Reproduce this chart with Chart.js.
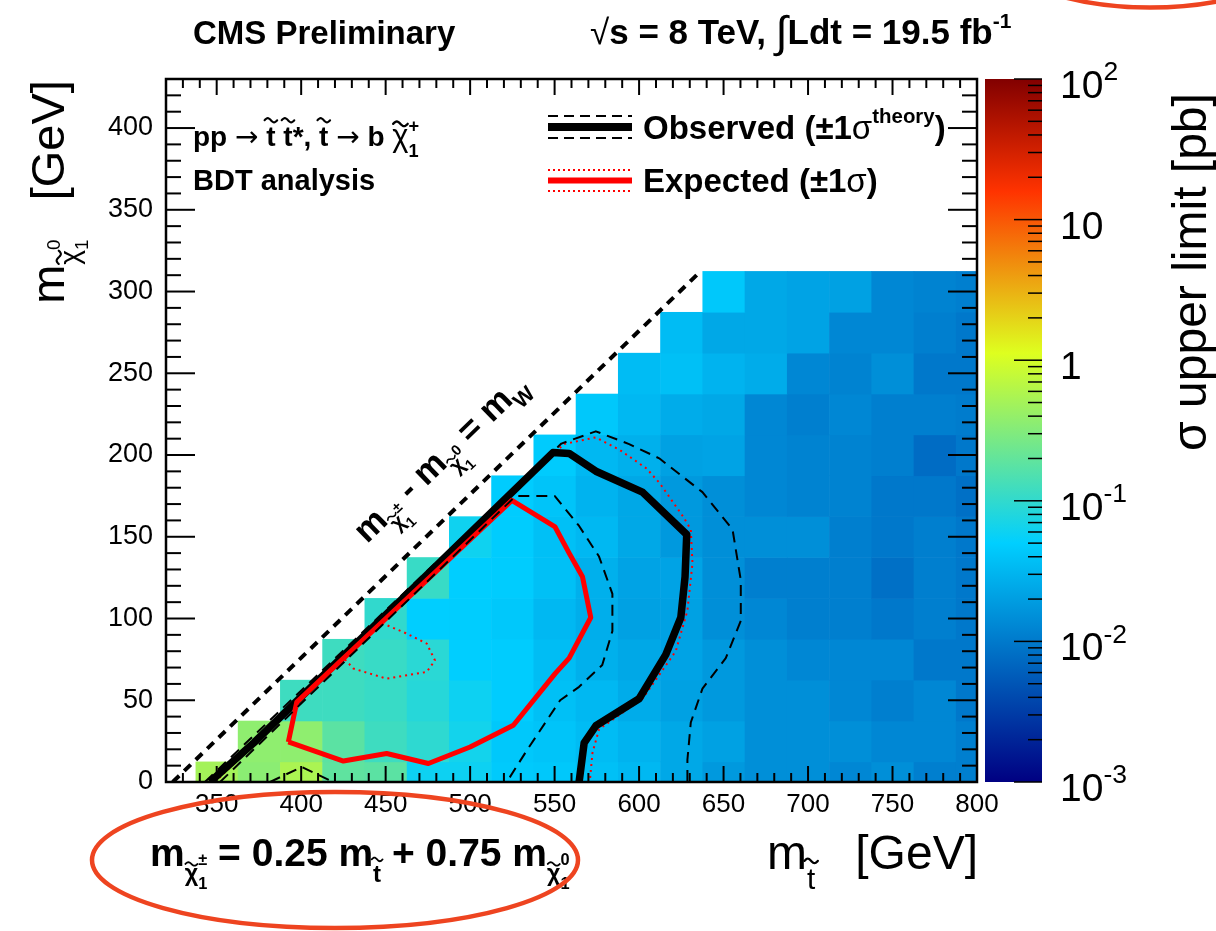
<!DOCTYPE html>
<html>
<head>
<meta charset="utf-8">
<script src="https://cdn.jsdelivr.net/npm/chart.js@4.4.1/dist/chart.umd.min.js"></script>
<style>
  html, body { margin: 0; padding: 0; background: #ffffff; }
  canvas { display: block; }
</style>
</head>
<body>
<canvas id="c" width="1216" height="931"></canvas>
<script>
// ---- signal grid: stop mass (x) and neutralino mass (y), GeV ----
const mStop = [350, 375, 400, 425, 450, 475, 500, 525, 550, 575, 600, 625, 650, 675, 700, 725, 750, 775, 800];
const mLSP  = [0, 25, 50, 75, 100, 125, 150, 175, 200, 225, 250, 275, 300];

// σ upper limit [pb], one array per neutralino mass; null = no signal point
const limit_mLSP0   = [0.50, 0.35, 0.55, 0.19, 0.18, 0.060, 0.060, 0.046, 0.044, 0.038, 0.033, 0.024, 0.018, 0.015, 0.015, 0.013, 0.015, 0.011, 0.011];
const limit_mLSP25  = [null, 0.37, 0.37, 0.18, 0.12, 0.095, 0.065, 0.044, 0.041, 0.035, 0.030, 0.024, 0.021, 0.015, 0.015, 0.015, 0.013, 0.013, 0.011];
const limit_mLSP50  = [null, null, 0.12, 0.12, 0.11, 0.085, 0.060, 0.048, 0.038, 0.033, 0.026, 0.021, 0.018, 0.015, 0.015, 0.013, 0.011, 0.013, 0.0097];
const limit_mLSP75  = [null, null, null, 0.12, 0.11, 0.090, 0.050, 0.048, 0.036, 0.028, 0.024, 0.022, 0.018, 0.015, 0.013, 0.013, 0.013, 0.0097, 0.0097];
const limit_mLSP100 = [null, null, null, null, 0.10, 0.050, 0.049, 0.044, 0.033, 0.027, 0.021, 0.021, 0.015, 0.013, 0.011, 0.011, 0.0097, 0.011, 0.0097];
const limit_mLSP125 = [null, null, null, null, null, 0.11, 0.050, 0.048, 0.038, 0.028, 0.022, 0.022, 0.015, 0.011, 0.011, 0.011, 0.0084, 0.011, 0.0097];
const limit_mLSP150 = [null, null, null, null, null, null, 0.062, 0.048, 0.038, 0.033, 0.024, 0.018, 0.015, 0.015, 0.015, 0.011, 0.0097, 0.011, 0.0097];
const limit_mLSP175 = [null, null, null, null, null, null, null, 0.048, 0.041, 0.030, 0.024, 0.018, 0.015, 0.013, 0.012, 0.012, 0.0097, 0.0097, 0.0084];
const limit_mLSP200 = [null, null, null, null, null, null, null, null, 0.047, 0.033, 0.028, 0.021, 0.022, 0.013, 0.012, 0.012, 0.011, 0.0078, 0.0097];
const limit_mLSP225 = [null, null, null, null, null, null, null, null, null, 0.044, 0.033, 0.026, 0.024, 0.013, 0.011, 0.013, 0.011, 0.011, 0.0105];
const limit_mLSP250 = [null, null, null, null, null, null, null, null, null, null, 0.035, 0.038, 0.030, 0.026, 0.013, 0.012, 0.015, 0.0097, 0.0097];
const limit_mLSP275 = [null, null, null, null, null, null, null, null, null, null, null, 0.035, 0.024, 0.024, 0.022, 0.013, 0.013, 0.011, 0.0097];
const limit_mLSP300 = [null, null, null, null, null, null, null, null, null, null, null, null, 0.044, 0.024, 0.022, 0.021, 0.013, 0.012, 0.011];
const limitRows = [limit_mLSP0, limit_mLSP25, limit_mLSP50, limit_mLSP75, limit_mLSP100, limit_mLSP125,
                   limit_mLSP150, limit_mLSP175, limit_mLSP200, limit_mLSP225, limit_mLSP250, limit_mLSP275, limit_mLSP300];

// ---- exclusion contours (mStop, mLSP) ----
const obsLine = [[346,0],[372,24],[549,201.5],[558.6,201],[574.4,190.1],[602,177.3],[628.2,151.4],[627.2,125.5],[624.7,100.6],[615.8,77.9],[600,50.9],[574.4,34.4],[567.5,24],[564.5,0]];
const obsUp   = [[343,0],[554,207],[574.4,214.5],[594.1,206.7],[611.9,198],[637.5,177.3],[655.3,154.5],[660.2,123.4],[660.2,98.6],[651.3,75.8],[637.5,57.1],[630.6,36.4],[628.6,13.6],[628.6,0]];
const obsDown = [[352,0],[527,175],[550,175],[564.5,156.6],[576.3,137.9],[584.2,115.1],[584.2,92.3],[578.2,71.6],[564.5,58.2],[553.3,50],[545.4,37.7],[533.6,19.4],[521.7,0]];
const obsDownTail = [[381.6,0],[400.3,9.2],[419,0]];
const expLine = [[392.4,24.5],[397.4,48.9],[524.7,172.3],[550.3,156],[558.6,140],[566.5,125.5],[571.4,100.6],[558.6,75.8],[550.3,66.3],[525.6,34.7],[500,21.4],[475.3,11.3],[450.6,17.4],[425,12.8],[392.4,24.5]];
const expUp   = [[349,0],[555.5,206.7],[574.4,210.8],[588.7,203],[604.5,191.7],[612.4,182.5],[626.2,162.1],[630.6,154.5],[631.6,133.8],[628.6,104.8],[621.7,80],[602,50.9],[576.3,32.3],[572.4,17.8],[570.8,0]];
const expDown = [[425,76],[440,92],[446,98],[462,91],[474.3,84.7],[479.2,74.4],[474.3,67.3],[450.6,63.2],[430.9,69.4],[425,76]];
// m(chargino) - m(neutralino) = m(W) boundary
const kinLine = [[324,0],[636.5,312.5]];

// ---- axis ticks ----
const xTickLabels = [350, 400, 450, 500, 550, 600, 650, 700, 750, 800];
const yTickLabels = [0, 50, 100, 150, 200, 250, 300, 350, 400];
const zDecades = [1e-3, 1e-2, 1e-1, 1, 10, 100];
const zDecadeLabels = [['10', '-3'], ['10', '-2'], ['10', '-1'], ['1', ''], ['10', ''], ['10', '2']];

const FONT = '"Liberation Sans", Helvetica, Arial, "DejaVu Sans", sans-serif';
const ARROW_FONT = '"DejaVu Sans", "Liberation Sans", sans-serif';
const BIN_HALF = 12.5;
const Z_MIN = 1e-3, Z_MAX = 1e2;

// rainbow palette (stops, r, g, b)
const PAL_STOPS = [0.00, 0.34, 0.61, 0.84, 1.00];
const PAL_R = [0.00, 0.00, 0.87, 1.00, 0.51];
const PAL_G = [0.00, 0.81, 1.00, 0.20, 0.00];
const PAL_B = [0.51, 1.00, 0.12, 0.00, 0.00];

function paletteRGB(t) {
  t = Math.min(1, Math.max(0, t));
  let k = 0;
  while (k < PAL_STOPS.length - 2 && t > PAL_STOPS[k + 1]) k++;
  const f = (t - PAL_STOPS[k]) / (PAL_STOPS[k + 1] - PAL_STOPS[k]);
  const c = (arr) => Math.round(255 * (arr[k] + f * (arr[k + 1] - arr[k])));
  return 'rgb(' + c(PAL_R) + ',' + c(PAL_G) + ',' + c(PAL_B) + ')';
}
function colorFor(v) {
  const t = (Math.log10(v) - Math.log10(Z_MIN)) / (Math.log10(Z_MAX) - Math.log10(Z_MIN));
  return paletteRGB(t);
}

function toPts(arr) { return arr.map(p => ({ x: p[0], y: p[1] })); }

// small tilde accent drawn as a sine stroke
function drawTilde(ctx, cx, cy, w, s) {
  ctx.save();
  ctx.lineWidth = Math.max(1.3, s * 0.075);
  ctx.strokeStyle = ctx.fillStyle;
  ctx.lineCap = 'round';
  ctx.beginPath();
  const h = s * 0.075;
  for (let i = 0; i <= 20; i++) {
    const t = i / 20;
    const xx = cx - w / 2 + w * t;
    const yy = cy - h * Math.sin(t * 2 * Math.PI);
    if (i === 0) ctx.moveTo(xx, yy); else ctx.lineTo(xx, yy);
  }
  ctx.stroke();
  ctx.restore();
}

// rich text: parts = {t, s (size factor), dy (em, +down), tilde (em above baseline), stack, w (weight), f (family)}
function rich(ctx, x, y, parts, size, opt) {
  opt = opt || {};
  const weight = opt.weight || 'normal';
  let cursor = 0, lastStart = 0;
  const placed = [];
  for (const p of parts) {
    const s = (p.s || 1) * size;
    const font = (p.w || weight) + ' ' + s + 'px ' + (p.f || FONT);
    ctx.font = font;
    const w = ctx.measureText(p.t).width;
    const px = p.stack ? lastStart : cursor;
    lastStart = px;
    placed.push({ p, s, px, w, font });
    cursor = Math.max(cursor, px + w);
  }
  let x0 = x;
  if (opt.align === 'center') x0 = x - cursor / 2;
  else if (opt.align === 'right') x0 = x - cursor;
  ctx.textAlign = 'left';
  ctx.textBaseline = 'alphabetic';
  for (const q of placed) {
    ctx.font = q.font;
    const yy = y + (q.p.dy || 0) * size;
    ctx.fillText(q.p.t, x0 + q.px, yy);
    if (q.p.tilde) drawTilde(ctx, x0 + q.px + q.w / 2, yy - q.p.tilde * q.s, Math.max(q.w * 0.9, q.s * 0.45), q.s);
  }
  return cursor;
}

function seg(ctx, x1, y1, x2, y2) { ctx.beginPath(); ctx.moveTo(x1, y1); ctx.lineTo(x2, y2); ctx.stroke(); }

const decorations = {
  id: 'decorations',
  beforeDatasetsDraw(chart) {
    const { ctx, chartArea: a, scales: { x, y } } = chart;
    ctx.save();
    ctx.beginPath();
    ctx.rect(a.left, a.top, a.right - a.left, a.bottom - a.top);
    ctx.clip();
    limitRows.forEach((row, j) => {
      const yc = mLSP[j];
      const yTop = y.getPixelForValue(yc + BIN_HALF), yBot = y.getPixelForValue(yc - BIN_HALF);
      row.forEach((v, i) => {
        if (v == null) return;
        const xc = mStop[i];
        const xL = x.getPixelForValue(xc - BIN_HALF), xR = x.getPixelForValue(xc + BIN_HALF);
        ctx.fillStyle = colorFor(v);
        ctx.fillRect(xL, yTop, xR - xL + 0.6, yBot - yTop + 0.6);
      });
    });
    ctx.restore();
  },
  afterDatasetsDraw(chart) {
    const { ctx, chartArea: a, scales: { x, y } } = chart;
    ctx.save();
    ctx.strokeStyle = '#000';
    ctx.lineWidth = 2;
    for (let v = 330; v < 800; v += 10) {
      const px = x.getPixelForValue(v);
      const L = v % 50 === 0 ? 16 : 9;
      seg(ctx, px, a.bottom, px, a.bottom - L);
      seg(ctx, px, a.top, px, a.top + L);
    }
    for (let v = 10; v < 430; v += 10) {
      const py = y.getPixelForValue(v);
      const L = v % 50 === 0 ? 29 : 15;
      seg(ctx, a.left, py, a.left + L, py);
      seg(ctx, a.right, py, a.right - L, py);
    }
    ctx.lineWidth = 2.5;
    ctx.strokeRect(a.left, a.top, a.right - a.left, a.bottom - a.top);
    ctx.restore();
  },
  afterDraw(chart) {
    const { ctx, chartArea: a, scales: { x, y, z } } = chart;
    ctx.save();
    ctx.fillStyle = '#000';

    // ---- colour bar ----
    const barL = z.left + 8, barR = z.left + 65;
    const yLo = z.getPixelForValue(Z_MIN), yHi = z.getPixelForValue(Z_MAX);
    const grad = ctx.createLinearGradient(0, yLo, 0, yHi);
    PAL_STOPS.forEach((s) => grad.addColorStop(s, paletteRGB(s)));
    ctx.fillStyle = grad;
    ctx.fillRect(barL, yHi, barR - barL, yLo - yHi);
    ctx.strokeStyle = '#000';
    ctx.lineWidth = 1.5;
    for (let d = 0; d < zDecades.length; d++) {
      const base = zDecades[d];
      const py = z.getPixelForValue(base);
      seg(ctx, barR, py, barR - 28, py);
      if (d < zDecades.length - 1) {
        for (let m = 2; m <= 9; m++) {
          const pm = z.getPixelForValue(base * m);
          seg(ctx, barR, pm, barR - 14, pm);
        }
      }
    }
    ctx.fillStyle = '#000';
    zDecades.forEach((v, i) => {
      const py = z.getPixelForValue(v);
      const lab = zDecadeLabels[i];
      const parts = [{ t: lab[0] }];
      if (lab[1]) parts.push({ t: lab[1], s: 0.68, dy: -0.45 });
      rich(ctx, barR + 18, py + 19, parts, 39);
    });
    // colour bar title
    ctx.save();
    ctx.translate(1206, 272);
    ctx.rotate(-Math.PI / 2);
    rich(ctx, 0, 0, [{ t: 'σ upper limit [pb]' }], 48, { align: 'center' });
    ctx.restore();

    // ---- axis titles ----
    ctx.save();
    ctx.translate(64, 192);
    ctx.rotate(-Math.PI / 2);
    rich(ctx, 0, 0, [
      { t: 'm' },
      { t: 'χ', s: 0.6, dy: 0.32, tilde: 0.72 },
      { t: '1', s: 0.4, dy: 0.5 },
      { t: '0', s: 0.4, dy: -0.08, stack: true },
      { t: '   [GeV]' }
    ], 47, { align: 'center' });
    ctx.restore();

    rich(ctx, a.right + 1, 869, [
      { t: 'm' },
      { t: 't', s: 0.62, dy: 0.42, tilde: 0.95 },
      { t: '   [GeV]' }
    ], 48, { align: 'right' });

    // ---- header ----
    rich(ctx, 193, 44, [{ t: 'CMS Preliminary' }], 33, { weight: 'bold' });
    rich(ctx, 590, 44, [
      { t: '√', w: 'normal' },
      { t: 's = 8 TeV, ' },
      { t: '∫', w: 'normal', s: 1.25, dy: 0.08 },
      { t: 'Ldt = 19.5 fb' },
      { t: '-1', s: 0.6, dy: -0.45 }
    ], 35, { weight: 'bold' });

    // ---- process / analysis labels ----
    rich(ctx, 193, 146, [
      { t: 'pp ' },
      { t: '→', w: 'normal', f: ARROW_FONT },
      { t: ' ' },
      { t: 't', tilde: 0.92 },
      { t: ' ' },
      { t: 't', tilde: 0.92 },
      { t: '*, ' },
      { t: 't', tilde: 0.92 },
      { t: ' ' },
      { t: '→', w: 'normal', f: ARROW_FONT },
      { t: ' b ' },
      { t: 'χ', w: 'normal', s: 1.1, tilde: 0.72 },
      { t: '1', s: 0.65, dy: 0.4 },
      { t: '+', s: 0.65, dy: -0.5, stack: true }
    ], 28, { weight: 'bold' });
    rich(ctx, 193, 190, [{ t: 'BDT analysis' }], 29, { weight: 'bold' });

    // ---- legend ----
    ctx.save();
    ctx.strokeStyle = '#000';
    ctx.lineWidth = 2;
    ctx.setLineDash([10, 6]);
    seg(ctx, 548, 116, 632, 116);
    seg(ctx, 548, 138, 632, 138);
    ctx.setLineDash([]);
    ctx.lineWidth = 8;
    seg(ctx, 548, 127, 632, 127);
    ctx.strokeStyle = '#ff0000';
    ctx.lineWidth = 2;
    ctx.setLineDash([2, 3]);
    seg(ctx, 548, 170, 632, 170);
    seg(ctx, 548, 191, 632, 191);
    ctx.setLineDash([]);
    ctx.lineWidth = 6;
    seg(ctx, 548, 180.5, 632, 180.5);
    ctx.restore();
    ctx.fillStyle = '#000';
    rich(ctx, 643, 139, [
      { t: 'Observed (±1' },
      { t: 'σ', w: 'normal' },
      { t: 'theory', s: 0.62, dy: -0.5 },
      { t: ')' }
    ], 33, { weight: 'bold' });
    rich(ctx, 643, 192, [
      { t: 'Expected (±1' },
      { t: 'σ', w: 'normal' },
      { t: ')' }
    ], 33, { weight: 'bold' });

    // ---- kinematic boundary label, aligned with the boundary line ----
    const ang = Math.atan2(y.getPixelForValue(300) - y.getPixelForValue(0),
                           x.getPixelForValue(624) - x.getPixelForValue(324));
    ctx.save();
    ctx.translate(448, 466);
    ctx.rotate(ang);
    rich(ctx, 0, 0, [
      { t: 'm' },
      { t: 'χ', s: 0.6, dy: 0.35, tilde: 0.72 },
      { t: '1', s: 0.42, dy: 0.55 },
      { t: '±', s: 0.42, dy: -0.02, stack: true },
      { t: ' - m' },
      { t: 'χ', s: 0.6, dy: 0.35, tilde: 0.72 },
      { t: '1', s: 0.42, dy: 0.55 },
      { t: '0', s: 0.42, dy: -0.02, stack: true },
      { t: ' = m' },
      { t: 'W', s: 0.62, dy: 0.3 }
    ], 35, { weight: 'bold', align: 'center' });
    ctx.restore();

    // ---- mass relation ----
    rich(ctx, 150, 866, [
      { t: 'm' },
      { t: 'χ', s: 0.6, dy: 0.38, tilde: 0.72 },
      { t: '1', s: 0.42, dy: 0.6 },
      { t: '±', s: 0.42, dy: -0.02, stack: true },
      { t: ' = 0.25 m' },
      { t: 't', s: 0.62, dy: 0.42, tilde: 0.95 },
      { t: ' + 0.75 m' },
      { t: 'χ', s: 0.6, dy: 0.38, tilde: 0.72 },
      { t: '1', s: 0.42, dy: 0.6 },
      { t: '0', s: 0.42, dy: -0.02, stack: true }
    ], 39, { weight: 'bold' });

    // ---- highlight ellipses ----
    ctx.strokeStyle = '#ee4420';
    ctx.lineWidth = 4.5;
    ctx.beginPath();
    ctx.ellipse(335, 860, 243, 68, 0, 0, 2 * Math.PI);
    ctx.stroke();
    ctx.beginPath();
    ctx.ellipse(1150, -60, 160, 67.5, 0, 0, Math.PI);
    ctx.stroke();
    ctx.restore();
  }
};

function lineSet(data, color, width, dash) {
  return {
    data: toPts(data), borderColor: color, borderWidth: width, borderDash: dash || [],
    showLine: true, pointRadius: 0, pointHoverRadius: 0, fill: false, tension: 0,
    borderJoinStyle: 'round', clip: 0
  };
}

new Chart(document.getElementById('c'), {
  type: 'scatter',
  data: {
    datasets: [
      lineSet(kinLine, '#000000', 4, [9, 7]),
      lineSet(obsUp, '#000000', 2, [11, 7]),
      lineSet(obsDown, '#000000', 2, [11, 7]),
      lineSet(obsDownTail, '#000000', 2, [11, 7]),
      lineSet(expLine, '#ff0000', 5),
      lineSet(obsLine, '#000000', 7.5),
      lineSet(expUp, '#ff0000', 2, [2, 4]),
      lineSet(expDown, '#ff0000', 2, [2, 4])
    ]
  },
  options: {
    responsive: false,
    devicePixelRatio: 1,
    animation: false,
    events: [],
    layout: { padding: { top: 79, left: 0, right: 0, bottom: 0 } },
    plugins: { legend: { display: false }, tooltip: { enabled: false } },
    scales: {
      x: {
        type: 'linear', position: 'bottom', min: 320, max: 800,
        afterFit(s) { s.height = 931 - 782; },
        afterBuildTicks(s) { s.ticks = xTickLabels.map(v => ({ value: v })); },
        ticks: { color: '#000', font: { family: FONT, size: 26 }, padding: 7, maxRotation: 0, autoSkip: false },
        grid: { display: false, drawTicks: false },
        border: { display: false }
      },
      y: {
        type: 'linear', position: 'left', min: 0, max: 430,
        afterFit(s) { s.width = 166; },
        afterBuildTicks(s) { s.ticks = yTickLabels.map(v => ({ value: v })); },
        ticks: { color: '#000', font: { family: FONT, size: 27 }, padding: 13, autoSkip: false },
        grid: { display: false, drawTicks: false },
        border: { display: false }
      },
      z: {
        type: 'logarithmic', position: 'right', min: Z_MIN, max: Z_MAX,
        afterFit(s) { s.width = 1216 - 977; },
        ticks: { display: false },
        grid: { display: false, drawTicks: false },
        border: { display: false }
      }
    }
  },
  plugins: [decorations]
});
</script>
</body>
</html>
